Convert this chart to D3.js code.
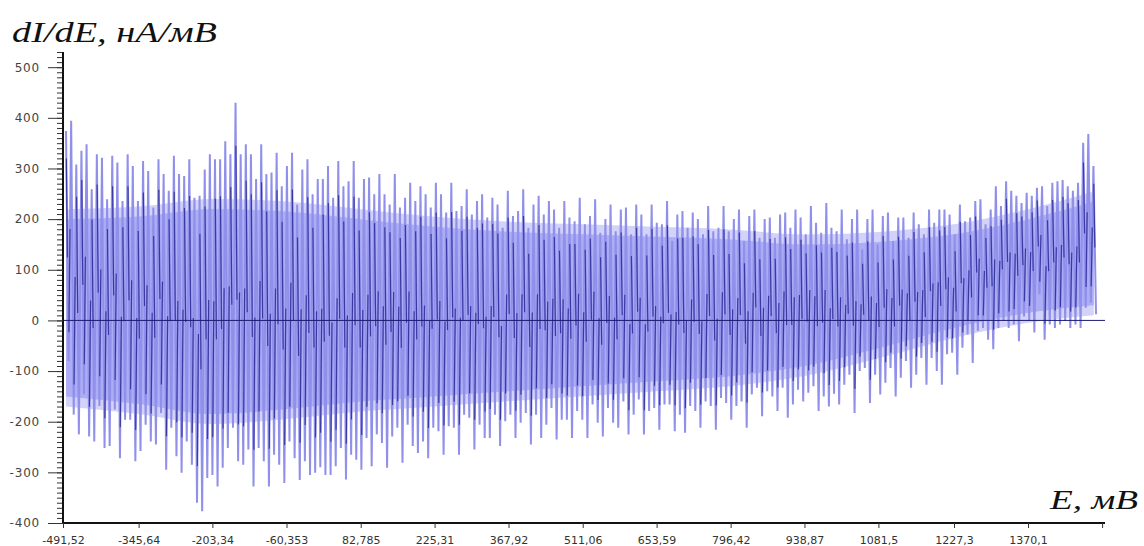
<!DOCTYPE html>
<html>
<head>
<meta charset="utf-8">
<script src="https://cdn.jsdelivr.net/npm/d3@7"></script>
<style>
  body { margin: 0; background: #fff; }
  svg { display: block; }
</style>
</head>
<body>
<svg id="chart"></svg>
<script>
// dI/dE against E: a dense oscillating trace, read spike by spike from the picture

var xTicks = [-491.52, -345.64, -203.34, -60.353, 82.785, 225.31, 367.92, 511.06,
              653.59, 796.42, 938.87, 1081.5, 1227.3, 1370.1, 1513];
var xTickLabels = ["-491,52", "-345,64", "-203,34", "-60,353", "82,785", "225,31", "367,92",
                   "511,06", "653,59", "796,42", "938,87", "1081,5", "1227,3", "1370,1", ""];
var yTicks = [-400, -300, -200, -100, 0, 100, 200, 300, 400, 500];

// sampling of the spikes along E (mV)
var firstE = -485.7,
    stepE = 9.91;

// upper tip of each spike (nA/mV)
var tops = [
  374, 394, 308, 335, 348, 259, 328, 321, 239, 325,
  312, 236, 328, 305, 236, 315, 295, 223, 318, 289,
  256, 325, 289, 285, 318, 242, 246, 298, 328, 318,
  318, 354, 328, 430, 328, 348, 328, 279, 348, 289,
  292, 331, 265, 305, 331, 229, 298, 318, 249, 279,

  279, 305, 242, 315, 265, 275, 315, 242, 279, 282,
  249, 289, 249, 229, 289, 223, 242, 272, 236, 265,
  249, 223, 272, 249, 213, 272, 216, 226, 259, 209,
  236, 249, 203, 242, 229, 183, 256, 206, 216, 259,
  183, 229, 246, 209, 236, 219, 183, 236, 203, 196,

  242, 190, 206, 239, 173, 200, 229, 176, 219, 223,
  170, 229, 209, 170, 229, 193, 190, 236, 157, 209,
  216, 183, 213, 200, 170, 226, 176, 183, 226, 176,
  200, 219, 157, 206, 219, 163, 200, 203, 163, 209,
  213, 183, 219, 203, 170, 226, 193, 173, 232, 183,

  176, 219, 160, 200, 219, 140, 200, 219, 150, 206,
  213, 157, 203, 203, 163, 213, 190, 170, 219, 193,
  219, 219, 209, 170, 229, 196, 203, 236, 239, 190,
  219, 265, 226, 275, 256, 246, 232, 252, 246, 262,
  265, 226, 272, 275, 277, 265, 256, 272, 351, 368, 305
];

// lower tip of each spike (nA/mV)
var bottoms = [
  -80, -186, -225, -146, -229, -239, -169, -252, -248, -176,
  -272, -196, -196, -278, -258, -206, -239, -245, -183, -295,
  -212, -268, -301, -239, -285, -360, -377, -311, -305, -328,
  -291, -252, -212, -278, -285, -255, -328, -252, -278, -328,
  -265, -285, -321, -239, -272, -315, -278, -305, -301, -290,

  -305, -305, -288, -252, -314, -265, -275, -295, -232, -288,
  -225, -242, -291, -229, -212, -281, -206, -248, -262, -239,
  -272, -212, -219, -265, -209, -212, -265, -186, -192, -255,
  -206, -232, -232, -186, -248, -199, -186, -232, -202, -183,
  -245, -186, -232, -206, -173, -235, -196, -196, -232, -179,

  -196, -232, -166, -202, -229, -173, -202, -212, -160, -225,
  -186, -156, -225, -179, -173, -216, -166, -166, -219, -186,
  -222, -169, -179, -212, -160, -169, -216, -153, -163, -196,
  -169, -160, -212, -146, -133, -189, -140, -150, -179, -133,
  -192, -166, -137, -160, -143, -130, -179, -150, -170, -145,

  -166, -127, -107, -183, -100, -94, -163, -107, -146, -123,
  -94, -150, -113, -80, -133, -107, -74, -127, -74, -100,
  -127, -67, -64, -107, -54, -28, -84, -21, -15, -38,
  -57, -15, -1, -15, -8, -41, 8, -1, -24, 51,
  -38, -8, -15, -8, -1, -15, -8, -15, 25, 35, 12
];

// edges of the solid light band where the trace is densest
var bandE      = [-485.7, -345.64, -203.34, -60.353, 82.785, 225.31, 367.92, 511.06,
                  653.59, 796.42, 938.87, 1081.5, 1227.3, 1370.1, 1497];
var bandTop    = [200, 205, 220, 215, 200, 185, 175, 170, 165, 160, 150, 155, 170, 200, 235];
var bandBottom = [-150, -165, -185, -175, -160, -150, -140, -130, -120, -110, -90, -55, -15, 15, 30];

var width = 1144,
    height = 546;

var svg = d3.select("#chart")
    .attr("width", width)
    .attr("height", height);

var x = d3.scaleLinear().domain([-491.52, 1518.6]).range([63, 1105]);
var y = d3.scaleLinear().domain([-400, 530]).range([523, 52]);

// zigzag: up to each top, down to each bottom half a step later
var trace = [];
tops.forEach(function(t, i) {
    trace.push([firstE + i * stepE, t]);
    trace.push([firstE + (i + 0.5) * stepE, bottoms[i]]);
});

var band = bandE.map(function(e, i) { return {e: e, hi: bandTop[i], lo: bandBottom[i]}; });

// band drawn twice, the outer one faint, so its edge fades out
[{pad: 10, opacity: 0.5}, {pad: 0, opacity: 0.9}].forEach(function(layer) {
    svg.append("path")
        .datum(band)
        .attr("fill", "#a8a8f5")
        .attr("fill-opacity", layer.opacity)
        .attr("d", d3.area()
            .curve(d3.curveMonotoneX)
            .x(function(d) { return x(d.e); })
            .y0(function(d) { return y(d.lo) + layer.pad; })
            .y1(function(d) { return y(d.hi) - layer.pad; }));
});

svg.append("path")
    .datum(trace)
    .attr("fill", "none")
    .attr("stroke", "#9090ea")
    .attr("stroke-width", 2)
    .attr("d", d3.line()
        .x(function(d) { return x(d[0]); })
        .y(function(d) { return y(d[1]); }));

// darker cores on most of the strokes
var cores = [];
for (var i = 0; i < trace.length - 1; i++) {
    if (i % 3 === 2) continue;
    var a = trace[i], b = trace[i + 1];
    var from = 0.12, to = 0.55;
    cores.push([
        [a[0] + (b[0] - a[0]) * from, a[1] + (b[1] - a[1]) * from],
        [a[0] + (b[0] - a[0]) * to, a[1] + (b[1] - a[1]) * to]
    ]);
}
svg.append("g").selectAll("line")
    .data(cores)
    .enter().append("line")
    .attr("x1", function(d) { return x(d[0][0]); })
    .attr("y1", function(d) { return y(d[0][1]); })
    .attr("x2", function(d) { return x(d[1][0]); })
    .attr("y2", function(d) { return y(d[1][1]); })
    .attr("stroke", "#2a2a96")
    .attr("stroke-width", 1.2)
    .attr("stroke-opacity", 0.85);

// zero line
svg.append("line")
    .attr("x1", x(-491.52)).attr("x2", x(1518.6))
    .attr("y1", y(0)).attr("y2", y(0))
    .attr("stroke", "#1b1b6e")
    .attr("stroke-width", 1);

// y axis: major ticks with labels, minor ticks every 10
var yAxis = svg.append("g")
    .attr("transform", "translate(" + x(-491.52) + ",0)");
yAxis.append("g")
    .selectAll("line")
    .data(d3.range(-400, 531, 10))
    .enter().append("line")
    .attr("x1", -6).attr("x2", 0)
    .attr("y1", function(d) { return y(d) + 0.5; })
    .attr("y2", function(d) { return y(d) + 0.5; })
    .attr("stroke", "#333")
    .attr("stroke-width", 1);
yAxis.call(d3.axisLeft(y).tickValues(yTicks).tickSize(15).tickPadding(8)
        .tickFormat(function(d) { return d; }))
    .call(function(g) {
        g.select(".domain").attr("stroke", "#111").attr("stroke-width", 2)
            .attr("d", "M0," + y(530) + "V" + y(-400));
        g.selectAll(".tick line").attr("stroke", "#333");
        g.selectAll(".tick text")
            .attr("fill", "#444")
            .style("font-family", "DejaVu Sans, Verdana, sans-serif")
            .style("font-size", "12px")
            .style("letter-spacing", "0.8px");
    });

// x axis
svg.append("g")
    .attr("transform", "translate(0," + y(-400) + ")")
    .call(d3.axisBottom(x).tickValues(xTicks).tickSize(5).tickPadding(8)
        .tickFormat(function(d, i) { return xTickLabels[i]; }))
    .call(function(g) {
        g.select(".domain").attr("stroke", "#111").attr("stroke-width", 2)
            .attr("d", "M" + x(-491.52) + ",0H" + x(1518.6));
        g.selectAll(".tick line").attr("stroke", "#333");
        g.selectAll(".tick text")
            .attr("fill", "#333")
            .style("font-family", "DejaVu Sans, Verdana, sans-serif")
            .style("font-size", "11px");
    });

// axis titles
svg.append("text")
    .attr("x", 12)
    .attr("y", 42)
    .attr("textLength", 205)
    .attr("lengthAdjust", "spacingAndGlyphs")
    .style("font-family", "Liberation Serif, Times New Roman, serif")
    .style("font-style", "italic")
    .style("font-size", "29px")
    .attr("fill", "#111")
    .text("dI/dE, нА/мВ");

svg.append("text")
    .attr("x", 1050)
    .attr("y", 509)
    .attr("textLength", 88)
    .attr("lengthAdjust", "spacingAndGlyphs")
    .style("font-family", "Liberation Serif, Times New Roman, serif")
    .style("font-style", "italic")
    .style("font-size", "27px")
    .attr("fill", "#111")
    .text("E, мВ");
</script>
</body>
</html>
